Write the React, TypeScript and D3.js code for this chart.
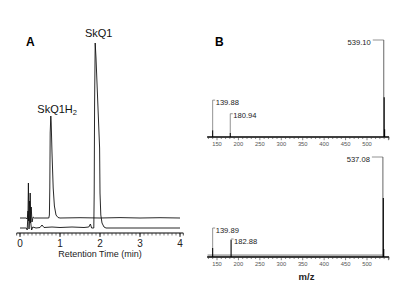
import React from "react";
import * as d3 from "d3";

// ---------- Panel A: chromatograms (time in min, signal in arbitrary units) ----------
const upperTrace: [number, number][] = [
  [0, 15], [0.15, 15], [0.18, 14], [0.2, 22], [0.215, 12], [0.24, 32], [0.26, 10], [0.28, 26], [0.3, 11],
  [0.33, 16], [0.36, 15], [0.5, 15], [0.72, 15], [0.735, 18], [0.745, 45], [0.755, 100], [0.77, 117],
  [0.78, 110], [0.8, 80], [0.83, 45], [0.86, 27], [0.9, 18], [0.95, 15.5], [1.0, 15], [1.5, 15.3],
  [2.0, 15], [2.5, 15.4], [3.0, 15], [3.5, 15.3], [4.0, 15],
];
const lowerTrace: [number, number][] = [
  [0, 5], [0.16, 5], [0.18, 3], [0.2, 20], [0.21, 50], [0.225, 4], [0.24, 15], [0.255, 40], [0.27, 10],
  [0.29, 3], [0.32, 6], [0.4, 5], [0.5, 5.5], [0.55, 8], [0.6, 5.5], [0.8, 6], [1.0, 5.5], [1.3, 6],
  [1.6, 5.5], [1.72, 6], [1.76, 9], [1.79, 5], [1.845, 5], [1.855, 40], [1.865, 130], [1.88, 190],
  [1.9, 175], [1.94, 135], [1.99, 85], [2.0, 40], [2.02, 18], [2.05, 10], [2.1, 6], [2.15, 5],
  [2.5, 5], [3.0, 5], [3.5, 5], [4.0, 5],
];
const timeMajorTicks = [0, 1, 2, 3, 4];
const timeMinorTicks = d3.range(0, 41).map((i) => i / 10);
const peakNames = ["SkQ1H", "SkQ1"];
const peakTimes = [0.77, 1.88];
const peakHeights = [117, 190];

// ---------- Panel B: mass spectra (m/z, relative intensity %) ----------
const mzTicks = [150, 200, 250, 300, 350, 400, 450, 500];
const mzMinorTicks = d3.range(130, 551, 10);
const topSticks: [number, number][] = [
  [139.88, 7], [180.94, 4], [539.1, 100], [540.1, 41], [541.1, 8],
];
const bottomSticks: [number, number][] = [
  [139.89, 9], [182.88, 17], [537.08, 100], [538.08, 59], [539.08, 8],
];
// labels: m/z, label level (%), side
const topLabels: [number, number, string][] = [
  [139.88, 38, "right"], [180.94, 24, "right"], [539.1, 100, "left"],
];
const bottomLabels: [number, number, string][] = [
  [139.89, 29, "right"], [182.88, 18, "right"], [537.08, 100, "left"],
];

const FONT = "Liberation Sans, Arial, sans-serif";

export default function App() {
  // Panel A scales
  const xT = d3.scaleLinear().domain([0, 4]).range([20, 180]);
  const yC = d3.scaleLinear().domain([0, 200]).range([233, 33]);
  const line = d3
    .line<[number, number]>()
    .x((d) => xT(d[0]))
    .y((d) => yC(d[1]));
  const axisY = yC(0);

  // Panel B scales
  const xM = d3.scaleLinear().domain([150, 500]).range([217, 367]);
  const yTop = d3.scaleLinear().domain([0, 100]).range([137, 40]);
  const yBot = d3.scaleLinear().domain([0, 100]).range([257, 157]);

  const spectrum = (
    sticks: [number, number][],
    labels: [number, number, string][],
    y: d3.ScaleLinear<number, number>,
    key: string,
    noise: boolean
  ) => {
    const y0 = y(0);
    const heightOf = (mz: number) => {
      const s = sticks.find((d) => d[0] === mz);
      return s ? s[1] : 0;
    };
    return (
      <g key={key}>
        {noise && (
          <line x1={xM(128)} x2={xM(537)} y1={y(1.6)} y2={y(1.6)} stroke="#b0b0b0" strokeWidth={2.4} />
        )}
        {labels.map(([mz, lvl, side]) => {
          const px = xM(mz);
          const ly = y(lvl);
          const topY = y(heightOf(mz));
          const txt = mz.toFixed(2);
          if (side === "right") {
            return (
              <g key={txt}>
                <path d={`M${px},${topY}V${ly}H${px + 2.5}`} fill="none" stroke="#777" strokeWidth={0.8} />
                <text x={px + 3} y={ly + 4.6} fontSize={7.6} fontFamily={FONT} fill="#222">
                  {txt}
                </text>
              </g>
            );
          }
          return (
            <g key={txt}>
              <path d={`M${px},${ly}H${px - 11}`} fill="none" stroke="#777" strokeWidth={0.8} />
              <text x={px - 13} y={ly + 4.8} fontSize={7.6} fontFamily={FONT} fill="#222" textAnchor="end">
                {txt}
              </text>
            </g>
          );
        })}
        {sticks.map(([mz, v], i) => (
          <line
            key={i}
            x1={xM(mz)}
            x2={xM(mz)}
            y1={y0}
            y2={y(v)}
            stroke={v >= 100 ? "#555" : "#000"}
            strokeWidth={v >= 100 ? 0.9 : 1.1}
          />
        ))}
        <line x1={xM(127)} x2={xM(551.5)} y1={y0} y2={y0} stroke="#000" strokeWidth={1.3} />
        {mzMinorTicks.map((m) => (
          <line key={m} x1={xM(m)} x2={xM(m)} y1={y0} y2={y0 + (m % 50 === 0 ? 3.2 : 2)} stroke="#333" strokeWidth={0.6} />
        ))}
        <line x1={xM(551.5)} x2={xM(551.5)} y1={y0} y2={y0 + 2.5} stroke="#333" strokeWidth={0.6} />
        {mzTicks.map((m) => (
          <text key={m} x={xM(m)} y={y0 + 9.2} fontSize={5.8} fontFamily={FONT} fill="#555" textAnchor="middle">
            {m}
          </text>
        ))}
      </g>
    );
  };

  return (
    <svg
      width={400}
      height={293}
      viewBox="0 0 400 293"
      style={{ position: "absolute", left: 0, top: 0, background: "#fff" }}
    >
      {/* Panel letters */}
      <text x={26} y={46} fontSize={12} fontWeight="bold" fontFamily={FONT}>A</text>
      <text x={215} y={46} fontSize={12} fontWeight="bold" fontFamily={FONT}>B</text>

      {/* Panel A traces */}
      <path d={line(upperTrace) || ""} fill="none" stroke="#111" strokeWidth={0.9} />
      <path d={line(lowerTrace) || ""} fill="none" stroke="#111" strokeWidth={0.9} />

      {/* Peak labels */}
      <text x={xT(peakTimes[0]) - 13.5} y={yC(peakHeights[0]) - 3.5} fontSize={11} fontFamily={FONT} fill="#111">
        {peakNames[0]}
        <tspan fontSize={7.5} dy={2.8}>2</tspan>
      </text>
      <text x={xT(peakTimes[1]) + 3.5} y={yC(peakHeights[1]) - 6.5} fontSize={11} fontFamily={FONT} fill="#111" textAnchor="middle">
        {peakNames[1]}
      </text>

      {/* Panel A axis */}
      <line x1={xT(-0.083)} x2={xT(4.083)} y1={axisY} y2={axisY} stroke="#000" strokeWidth={1} />
      <line x1={xT(-0.083)} x2={xT(-0.083)} y1={axisY} y2={axisY + 2.5} stroke="#000" strokeWidth={0.7} />
      <line x1={xT(4.083)} x2={xT(4.083)} y1={axisY} y2={axisY + 2.5} stroke="#000" strokeWidth={0.7} />
      {timeMinorTicks.map((t) => (
        <line key={t} x1={xT(t)} x2={xT(t)} y1={axisY} y2={axisY + 2.5} stroke="#222" strokeWidth={0.6} />
      ))}
      {timeMajorTicks.map((t) => (
        <g key={t}>
          <line x1={xT(t)} x2={xT(t)} y1={axisY} y2={axisY + 4} stroke="#000" strokeWidth={0.8} />
          <text x={xT(t)} y={axisY + 13.5} fontSize={10} fontFamily={FONT} textAnchor="middle" fill="#222">
            {t}
          </text>
        </g>
      ))}
      <text x={100} y={axisY + 24} fontSize={9} fontFamily={FONT} textAnchor="middle" fill="#222">
        Retention Time (min)
      </text>

      {/* Panel B spectra */}
      {spectrum(topSticks, topLabels, yTop, "top", false)}
      {spectrum(bottomSticks, bottomLabels, yBot, "bot", true)}
      <text x={306.5} y={280} fontSize={9.5} fontWeight="bold" fontFamily={FONT} textAnchor="middle" fill="#222">
        m/z
      </text>
    </svg>
  );
}
